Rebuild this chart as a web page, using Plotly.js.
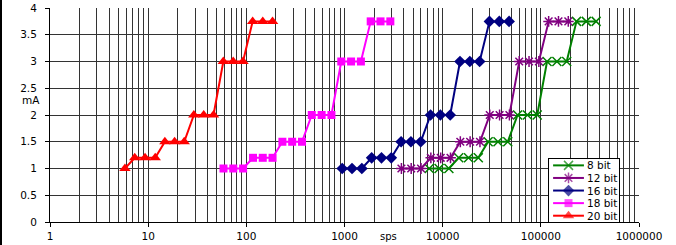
<!DOCTYPE html>
<html>
<head>
<meta charset="utf-8">
<script src="https://cdn.plot.ly/plotly-3.0.1.min.js"></script>
<style>
  html, body { margin: 0; padding: 0; background: #fff; }
  #wrap { position: relative; width: 676px; height: 245px; overflow: hidden; }
  #chart { position: absolute; left: 0; top: 0; width: 676px; height: 245px; }
  #edge { position: absolute; left: 0; top: 0; width: 2px; height: 245px; background: #000; }
</style>
</head>
<body>
<div id="wrap"><div id="chart"></div><div id="edge"></div></div>
<script>
// ---- data ----
const seriesNames = ["8 bit", "12 bit", "16 bit", "18 bit", "20 bit"];

const sps8  = [7300, 9190, 11570, 14570, 18340, 23080, 29060, 36590, 46060, 57990, 73000, 91900, 115700, 145700, 183400, 230800, 290600, 365900];
const mA8   = [1, 1, 1, 1.2, 1.2, 1.2, 1.5, 1.5, 1.5, 2, 2, 2, 3, 3, 3, 3.75, 3.75, 3.75];

const sps12 = [3800, 4780, 6020, 7580, 9550, 12020, 15130, 19040, 23980, 30180, 38000, 47840, 60220, 75820, 95450, 120160, 151270, 190440];
const mA12  = [1, 1, 1, 1.2, 1.2, 1.2, 1.5, 1.5, 1.5, 2, 2, 2, 3, 3, 3, 3.75, 3.75, 3.75];

const sps16 = [948, 1193, 1502, 1891, 2381, 2997, 3773, 4750, 5980, 7528, 9478, 11932, 15021, 18910, 23806, 29970, 37730, 47500];
const mA16  = [1, 1, 1, 1.2, 1.2, 1.2, 1.5, 1.5, 1.5, 2, 2, 2, 3, 3, 3, 3.75, 3.75, 3.75];

const sps18 = [58.5, 73.6, 92.7, 117, 147, 185, 233, 293, 369, 464, 585, 736, 927, 1167, 1469, 1849, 2328, 2931];
const mA18  = [1, 1, 1, 1.2, 1.2, 1.2, 1.5, 1.5, 1.5, 2, 2, 2, 3, 3, 3, 3.75, 3.75, 3.75];

const sps20 = [5.8, 7.3, 9.3, 11.8, 14.8, 18.6, 23.3, 29.2, 36.8, 46.3, 58.3, 73.5, 92.5, 116, 147, 185];
const mA20  = [1, 1.2, 1.2, 1.2, 1.5, 1.5, 1.5, 2, 2, 2, 3, 3, 3, 3.75, 3.75, 3.75];

const xTickVals = [1, 10, 100, 1000, 10000, 100000, 1000000];
const xTickText = ["1", "10", "100", "1000", "10000", "100000", "1000000"];
const yTickVals = [0, 0.5, 1, 1.5, 2, 2.5, 3, 3.5, 4];
const yTickText = ["0", "0.5", "1", "1.5", "2", "2.5", "3", "3.5", "4"];

// ---- styles ----
const FONT = "DejaVu Sans, Liberation Sans, Arial, sans-serif";
const styles = [
  {color: "#008000", symbol: "x-thin-open",   size: 9,  lw: 1.5},
  {color: "#800080", symbol: "asterisk-open", size: 9,  lw: 1.5},
  {color: "#000080", symbol: "diamond",       size: 9,  lw: 0},
  {color: "#FF00FF", symbol: "square",        size: 8,  lw: 0},
  {color: "#FF0000", symbol: "triangle-up",   size: 10, lw: 0}
];
const xs = [sps8, sps12, sps16, sps18, sps20];
const ys = [mA8, mA12, mA16, mA18, mA20];

const traces = [];
for (let i = 0; i < 5; i++) {
  const s = styles[i];
  traces.push({
    type: "scatter", mode: "lines+markers", name: seriesNames[i],
    x: xs[i], y: ys[i], xaxis: "x", yaxis: "y",
    line: {color: s.color, width: 2},
    marker: {symbol: s.symbol, size: s.size, color: s.color,
             line: {color: s.color, width: s.lw}},
    showlegend: false, hoverinfo: "skip"
  });
}

// custom compact legend drawn in its own small subplot
const legendY = [4.5, 3.5, 2.5, 1.5, 0.5];
const annotations = [];
for (let i = 0; i < 5; i++) {
  const s = styles[i];
  traces.push({
    type: "scatter", mode: "lines+markers",
    x: [0.06, 0.28, 0.5], y: [legendY[i], legendY[i], legendY[i]],
    xaxis: "x2", yaxis: "y2",
    line: {color: s.color, width: 2},
    marker: {symbol: s.symbol, size: [0, s.size, 0], color: s.color,
             line: {color: s.color, width: s.lw}},
    showlegend: false, hoverinfo: "skip"
  });
  annotations.push({
    xref: "x2", yref: "y2", x: 0.52, y: legendY[i], text: seriesNames[i],
    showarrow: false, xanchor: "left", yanchor: "middle",
    font: {family: FONT, size: 10.5, color: "#000"}
  });
}
annotations.push({xref: "paper", yref: "paper", x: -0.033, y: 0.568, text: "mA",
  showarrow: false, xanchor: "center", yanchor: "middle",
  font: {family: FONT, size: 10.5, color: "#000"}});
annotations.push({xref: "paper", yref: "paper", x: 0.574, y: -0.07, text: "sps",
  showarrow: false, xanchor: "center", yanchor: "middle",
  font: {family: FONT, size: 10, color: "#000"}});

const GRID = "#333333";
const layout = {
  width: 676, height: 245,
  margin: {l: 50, r: 37, t: 8, b: 23, pad: 0},
  paper_bgcolor: "#ffffff", plot_bgcolor: "#ffffff",
  showlegend: false,
  font: {family: FONT, size: 10.5, color: "#000"},
  xaxis: {
    type: "log", range: [0, 6], domain: [0, 1],
    tickvals: xTickVals, ticktext: xTickText,
    ticks: "outside", ticklen: 4, tickcolor: "#000", tickwidth: 1,
    showline: true, linecolor: "#000", linewidth: 1,
    showgrid: true, gridcolor: GRID, gridwidth: 1, zeroline: false,
    minor: {dtick: "D1", showgrid: true, gridcolor: GRID, gridwidth: 1, ticks: ""},
    tickfont: {family: FONT, size: 10.5, color: "#000"}
  },
  yaxis: {
    range: [0, 4], domain: [0, 1],
    tickvals: yTickVals, ticktext: yTickText,
    ticks: "outside", ticklen: 4, tickcolor: "#000", tickwidth: 1,
    ticklabelstandoff: 6,
    showline: true, linecolor: "#000", linewidth: 1,
    showgrid: true, gridcolor: GRID, gridwidth: 1, zeroline: false,
    tickfont: {family: FONT, size: 10.5, color: "#000"}
  },
  xaxis2: {
    domain: [0.847, 0.966], range: [0, 1], anchor: "y2",
    showgrid: false, zeroline: false, showticklabels: false, ticks: "",
    showline: true, mirror: true, linecolor: "#000", linewidth: 1, fixedrange: true
  },
  yaxis2: {
    domain: [0, 0.294], range: [0, 5], anchor: "x2",
    showgrid: false, zeroline: false, showticklabels: false, ticks: "",
    showline: true, mirror: true, linecolor: "#000", linewidth: 1, fixedrange: true
  },
  annotations: annotations
};

Plotly.newPlot("chart", traces, layout, {staticPlot: true, displayModeBar: false});
</script>
</body>
</html>
